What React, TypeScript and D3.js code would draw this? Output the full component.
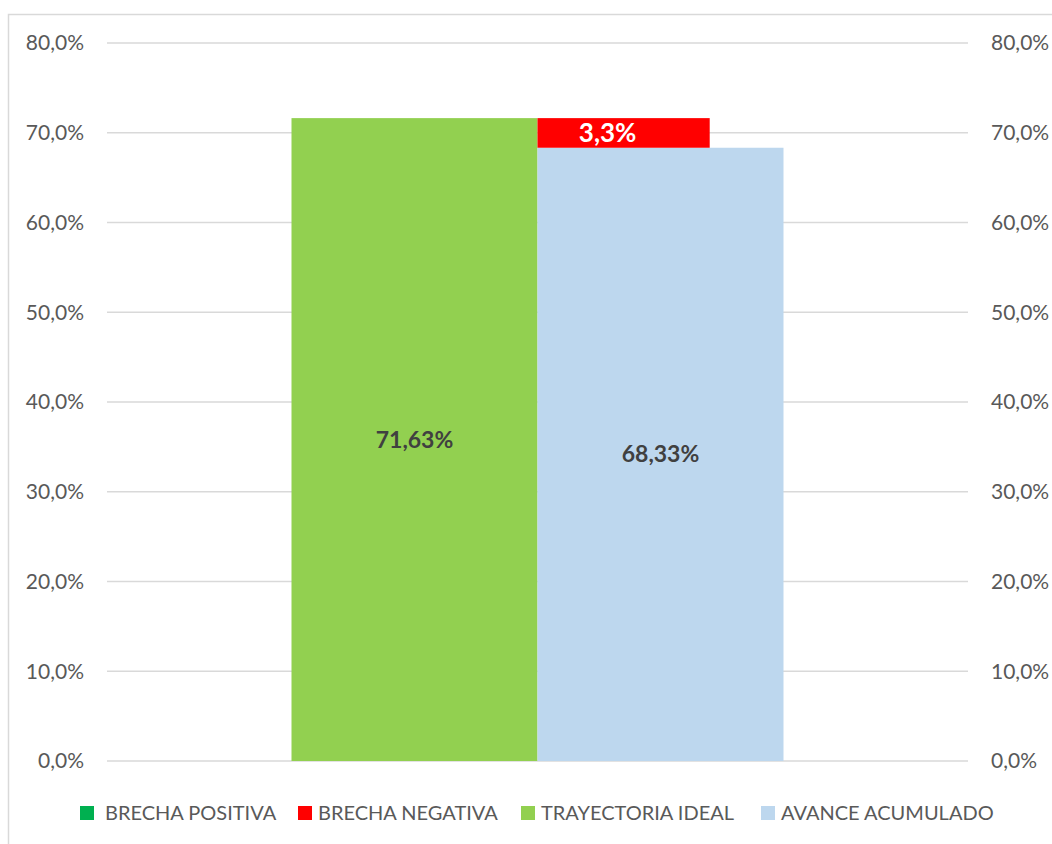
import React from "react";
import * as d3 from "d3";

const categories = [""];
const seriesNames = ["TRAYECTORIA IDEAL", "AVANCE ACUMULADO"];
const seriesValues = [71.63, 68.33];
const seriesLabels = ["71,63%", "68,33%"];
const gapValue = 3.3;
const gapLabel = "3,3%";
const yTicks = [0, 10, 20, 30, 40, 50, 60, 70, 80];
const legendItems = ["BRECHA POSITIVA", "BRECHA NEGATIVA", "TRAYECTORIA IDEAL", "AVANCE ACUMULADO"];
const legendColors = ["#00B050", "#FF0000", "#92D050", "#BDD7EE"];
const seriesColors = ["#92D050", "#BDD7EE"];

const W = 1052;
const H = 844;
const plotLeft = 107;
const plotRight = 968;
const plotTop = 43;
const plotBottom = 761;
const FONT = "Lato, 'Open Sans', sans-serif";

export default function App() {
  const y = d3.scaleLinear().domain([0, 80]).range([plotBottom, plotTop]);
  const xCat = d3.scaleBand<string>().domain(categories).range([plotLeft, plotRight]).paddingInner(0).paddingOuter(0.375);
  const xSer = d3.scaleBand<string>().domain(seriesNames).range([xCat("")!, xCat("")! + xCat.bandwidth()]).padding(0);
  const fmt = (v: number) => d3.format(".1f")(v).replace(".", ",") + "%";

  const blueX = xSer(seriesNames[1])!;
  const redW = xSer.bandwidth() * 0.7;
  const redTop = y(seriesValues[0]);
  const redBottom = y(seriesValues[0] - gapValue);

  const legendX = [80, 298, 521, 761];
  const legendOff = [25, 20, 20, 20];

  return (
    <svg width={W} height={H} style={{ position: "absolute", left: 0, top: 0, background: "#fff" }} fontFamily={FONT}>
      <rect x={8.5} y={14.5} width={W + 10} height={H + 10} fill="#fff" stroke="#D9D9D9" strokeWidth={1.5} />
      {yTicks.map((t) => (
        <g key={t}>
          <line x1={plotLeft} x2={plotRight} y1={y(t)} y2={y(t)} stroke="#D9D9D9" strokeWidth={1.5} />
          <text x={84} y={y(t)} dy="0.35em" textAnchor="end" fontSize={21} fill="#595959">{fmt(t)}</text>
          <text x={991} y={y(t)} dy="0.35em" textAnchor="start" fontSize={21} fill="#595959">{fmt(t)}</text>
        </g>
      ))}
      {seriesNames.map((s, i) => (
        <rect key={s} x={xSer(s)} y={y(seriesValues[i])} width={xSer.bandwidth()} height={plotBottom - y(seriesValues[i])} fill={seriesColors[i]} />
      ))}
      <rect x={blueX} y={redTop} width={redW} height={redBottom - redTop} fill="#FF0000" />
      <text x={blueX + redW / 2 - 16} y={(redTop + redBottom) / 2} dy="0.36em" textAnchor="middle" fontSize={26} fontWeight="bold" fill="#fff">{gapLabel}</text>
      {seriesNames.map((s, i) => (
        <text key={s} x={xSer(s)! + xSer.bandwidth() / 2} y={(y(seriesValues[i]) + plotBottom) / 2} dy="0.35em" textAnchor="middle" fontSize={23} fontWeight="bold" fill="#404040">{seriesLabels[i]}</text>
      ))}
      {legendItems.map((l, i) => (
        <g key={l}>
          <rect x={legendX[i]} y={806} width={14} height={14} fill={legendColors[i]} />
          <text x={legendX[i] + legendOff[i]} y={813} dy="0.35em" fontSize={20} fill="#595959">{l}</text>
        </g>
      ))}
    </svg>
  );
}
